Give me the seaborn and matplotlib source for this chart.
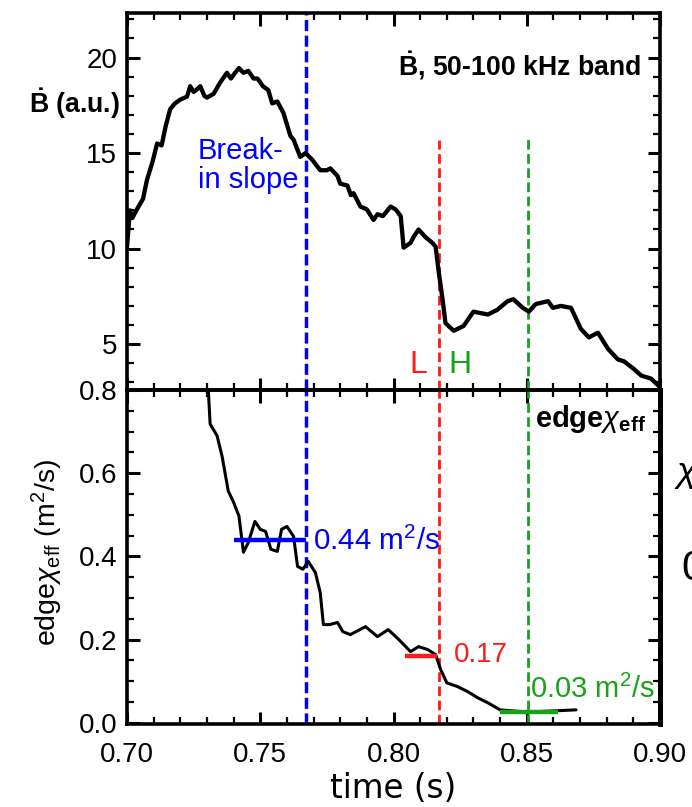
import numpy as np
import pandas as pd
import matplotlib
matplotlib.use("Agg")
import matplotlib.pyplot as plt
import seaborn as sns
from matplotlib import font_manager as fm
from matplotlib.ticker import MultipleLocator

# ---------------- data ----------------
t_top = [0.7000, 0.7011, 0.7020, 0.7035, 0.7060, 0.7075, 0.7095, 0.7113, 0.7130, 0.7145,
         0.7162, 0.7180, 0.7200, 0.7225, 0.7237, 0.7250, 0.7260, 0.7275, 0.7290, 0.7300,
         0.7325, 0.7350, 0.7375, 0.7390, 0.7400, 0.7420, 0.7437, 0.7455, 0.7475, 0.7490,
         0.7510, 0.7530, 0.7545, 0.7564, 0.7587, 0.7613, 0.7625, 0.7650, 0.7670, 0.7695,
         0.7725, 0.7750, 0.7763, 0.7790, 0.7800, 0.7827, 0.7840, 0.7850, 0.7876, 0.7900,
         0.7925, 0.7940, 0.7960, 0.7989, 0.8008, 0.8027, 0.8038, 0.8064, 0.8075, 0.8094,
         0.8120, 0.8146, 0.8158, 0.8170, 0.8184, 0.8195, 0.8226, 0.8263, 0.8300, 0.8354,
         0.8390, 0.8428, 0.8450, 0.8485, 0.8508, 0.8534, 0.8580, 0.8598, 0.8628, 0.8666,
         0.8703, 0.8733, 0.8767, 0.8805, 0.8842, 0.8865, 0.8902, 0.8930, 0.8966, 0.9000]
b_top = [10.1, 12.0, 11.6, 12.0, 12.6, 13.6, 14.5, 15.5, 15.4, 16.4,
         17.3, 17.6, 17.8, 17.95, 18.5, 18.2, 18.3, 18.5, 18.0, 17.9,
         18.1, 18.7, 19.2, 18.9, 19.1, 19.45, 19.2, 19.3, 18.9, 18.9,
         18.5, 18.3, 17.6, 17.7, 17.1, 15.9, 15.7, 14.8, 15.0, 14.65,
         14.1, 14.1, 14.2, 13.8, 13.4, 13.3, 12.8, 12.9, 12.2, 12.05,
         11.5, 11.8, 11.7, 12.2, 12.05, 11.7, 10.05, 10.3, 10.6, 11.0,
         10.6, 10.3, 10.1, 8.75, 7.35, 6.1, 5.7, 5.95, 6.7, 6.55,
         6.8, 7.25, 7.35, 6.9, 6.7, 7.1, 7.25, 6.9, 7.0, 6.9,
         5.8, 5.35, 5.6, 4.75, 4.2, 4.1, 3.7, 3.35, 3.2, 2.75]

t_chi = [0.7300, 0.7312, 0.7338, 0.7357, 0.7380, 0.7400, 0.7420, 0.7437, 0.7455, 0.7480,
         0.7500, 0.7520, 0.7540, 0.7564, 0.7580, 0.7600, 0.7625, 0.7640, 0.7660, 0.7680,
         0.7707, 0.7725, 0.7737, 0.7760, 0.7790, 0.7810, 0.7838, 0.7895, 0.7940, 0.7980,
         0.8020, 0.8064, 0.8094, 0.8128, 0.8158, 0.8177, 0.8200, 0.8240, 0.8278, 0.8316,
         0.8354, 0.8400, 0.8477, 0.8550, 0.8617, 0.8685]
chi = [0.86, 0.718, 0.69, 0.64, 0.557, 0.53, 0.497, 0.41, 0.433, 0.484,
       0.465, 0.46, 0.417, 0.412, 0.465, 0.472, 0.448, 0.376, 0.369, 0.388,
       0.361, 0.313, 0.236, 0.236, 0.241, 0.219, 0.212, 0.231, 0.207, 0.224,
       0.2, 0.171, 0.183, 0.176, 0.164, 0.128, 0.096, 0.087, 0.075, 0.06,
       0.048, 0.031, 0.027, 0.027, 0.029, 0.031]

# reference levels of edge chi_eff
level_start = [0.740, 0.8045, 0.840]
level_end = [0.767, 0.8165, 0.8617]
level_value = [0.44, 0.16, 0.027]
level_text = ["0.44 m$^2$/s", "0.17", "0.03 m$^2$/s"]

# event times (break in slope, L-H transition, H-mode reference)
event_t = [0.767, 0.817, 0.8505]
event_top = [22.4, 15.7, 15.85]

BLUE = "#0000ff"
RED = "#ff1a1a"
GREEN = "#17a317"
colors = [BLUE, RED, GREEN]

# ---------------- style ----------------
sns.set_style("ticks")
plt.rcParams["font.family"] = ["Liberation Sans", "DejaVu Sans"]
plt.rcParams["mathtext.fontset"] = "custom"
plt.rcParams["mathtext.rm"] = "Liberation Sans"
plt.rcParams["mathtext.it"] = "Liberation Sans:italic"
plt.rcParams["mathtext.bf"] = "Liberation Sans:bold"
plt.rcParams["text.color"] = "black"
plt.rcParams["axes.labelcolor"] = "black"
plt.rcParams["xtick.color"] = "black"
plt.rcParams["ytick.color"] = "black"

names = {f.name for f in fm.fontManager.ttflist}
narrow = "Liberation Sans Narrow" in names
cond_family = ["Liberation Sans Narrow", "Liberation Sans", "DejaVu Sans"] if narrow else ["Liberation Sans", "DejaVu Sans"]
big_lbl = 22 if narrow else 19.2

W, H = 692, 807
fig = plt.figure(figsize=(W / 100, H / 100), dpi=100)

def fx(x):
    return x / W

def fy(y):
    return 1 - y / H

left, right = 127, 660
ax1 = fig.add_axes([fx(left), fy(390), (right - left) / W, (390 - 13) / H])
ax2 = fig.add_axes([fx(left), fy(724), (right - left) / W, (724 - 390) / H])

df_top = pd.DataFrame({"t": t_top, "b": b_top})
df_chi = pd.DataFrame({"t": t_chi, "chi": chi})

sns.lineplot(data=df_top, x="t", y="b", ax=ax1, color="black", lw=3.1,
             estimator=None, sort=False)
sns.lineplot(data=df_chi, x="t", y="chi", ax=ax2, color="black", lw=2.2,
             estimator=None, sort=False)

ax1.set_xlim(0.70, 0.90)
ax2.set_xlim(0.70, 0.90)
ax1.set_ylim(2.6, 22.33)
ax2.set_ylim(-0.003, 0.80)

dashes = [(0, (3.2, 1.3)), (0, (3.5, 1.6)), (0, (3.5, 1.6))]
widths = [2.5, 2.0, 2.0]
for t, top, c, ds, w in zip(event_t, event_top, colors, dashes, widths):
    ax1.vlines(t, 2.6, top, color=c, ls=ds, lw=w, zorder=1)
    ax2.axvline(t, color=c, ls=ds, lw=w, zorder=1)

for s, e, v, c in zip(level_start, level_end, level_value, colors):
    ax2.hlines(v, s, e, color=c, lw=3.2, zorder=3)

for ax in (ax1, ax2):
    ax.set_xlabel("")
    ax.set_ylabel("")
    ax.xaxis.set_major_locator(MultipleLocator(0.05))
    ax.xaxis.set_minor_locator(MultipleLocator(0.01))
    ax.tick_params(which="both", direction="in", top=True, right=True, colors="black")
    ax.tick_params(which="major", length=9, width=2.2, labelsize=20)
    ax.tick_params(which="minor", length=5, width=1.6)
    ax.tick_params(axis="y", pad=7)
    ax.tick_params(axis="x", pad=13)
    for sp in ax.spines.values():
        sp.set_linewidth(2.6)
        sp.set_color("black")
    ax.patch.set_alpha(0)

ax1.yaxis.set_major_locator(MultipleLocator(5))
ax1.yaxis.set_minor_locator(MultipleLocator(1))
ax1.tick_params(labelbottom=False)
ax2.yaxis.set_major_locator(MultipleLocator(0.2))
ax2.yaxis.set_minor_locator(MultipleLocator(0.05))
ax2.set_xticks([0.70, 0.75, 0.80, 0.85, 0.90])
ax2.set_xticklabels(["0.70", "0.75", "0.80", "0.85", "0.90"])
ax2.set_yticks([0.0, 0.2, 0.4, 0.6, 0.8])
ax2.set_yticklabels(["0.0", "0.2", "0.4", "0.6", "0.8"])
ax2.spines["right"].set_linewidth(3.6)

# ---------------- texts ----------------
fig.text(fx(29), fy(113), r"$\mathbf{\dot{B}}$ (a.u.)", fontsize=big_lbl,
         fontweight="bold", family=cond_family, va="baseline", ha="left")
fig.text(fx(641), fy(75), r"$\mathbf{\dot{B}}$, 50-100 kHz band", fontsize=big_lbl,
         fontweight="bold", family=cond_family, va="baseline", ha="right")
fig.text(fx(198), fy(188), "Break-\nin slope", color=BLUE, fontsize=21,
         va="baseline", ha="left", linespacing=1.05)
fig.text(fx(409), fy(373), "L", color=RED, fontsize=23, va="baseline", ha="left")
fig.text(fx(448), fy(373), "H", color=GREEN, fontsize=23, va="baseline", ha="left")

fig.text(fx(313), fy(550), level_text[0], color=BLUE, fontsize=21.3, va="baseline", ha="left")
fig.text(fx(454), fy(662), level_text[1], color=RED, fontsize=20, va="baseline", ha="left")
fig.text(fx(530), fy(698), level_text[2], color=GREEN, fontsize=21, va="baseline", ha="left")

fig.text(fx(535), fy(427), r"$\mathbf{edge}\chi_{\mathbf{eff}}$", fontsize=21,
         va="baseline", ha="left")

fig.text(fx(47), fy(552), r"edge$\chi_{\mathrm{eff}}$ (m$^2$/s)", fontsize=20.5,
         rotation=90, va="center", ha="center")
fig.text(fx(393), fy(798), "time (s)", fontsize=23.5, family=["DejaVu Sans"],
         va="baseline", ha="center")

# fragments of the neighbouring panel at the right edge
fig.text(fx(674), fy(482), r"$\chi$", fontsize=26, va="baseline", ha="left")
fig.text(fx(681), fy(580), "0", fontsize=30, va="baseline", ha="left")

fig.savefig("out.png", dpi=100)
